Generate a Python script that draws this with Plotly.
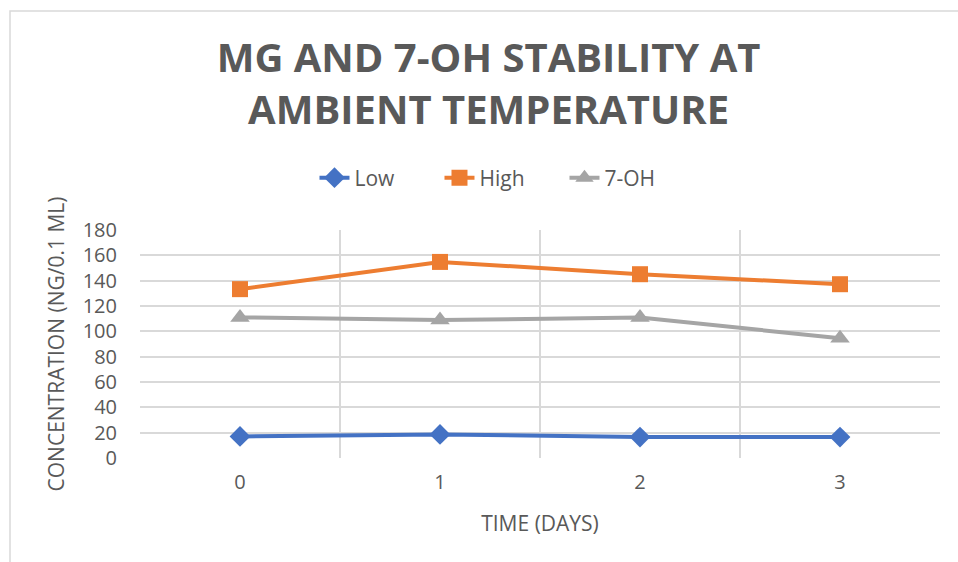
import plotly.graph_objects as go

# Stability data (concentration in ng/0.1 mL over days at ambient temperature)
days = [0, 1, 2, 3]
low = [17.0, 18.6, 16.5, 16.5]
high = [133.3, 154.8, 145.1, 137.2]
seven_oh = [111.0, 108.9, 111.0, 94.5]

series = [
    ("Low", low, "#4472C4", "diamond", 16),
    ("High", high, "#ED7D31", "square", 16),
    ("7-OH", seven_oh, "#A5A5A5", "triangle-up", 17),
]

FONT = "Open Sans"
TEXT = "#595959"
GRID = "#D9D9D9"

fig = go.Figure()
for name, vals, color, sym, size in series:
    fig.add_trace(go.Scatter(
        x=days, y=vals, name=name, mode="lines+markers",
        line=dict(color=color, width=4),
        marker=dict(symbol=sym, size=size, color=color, line=dict(width=0)),
    ))

fig.update_layout(
    width=958, height=562,
    paper_bgcolor="white", plot_bgcolor="white",
    margin=dict(l=140, r=18, t=230, b=104),
    font=dict(family=FONT, color=TEXT, size=20),
    title=dict(
        text="MG AND 7-OH STABILITY AT<br>AMBIENT TEMPERATURE",
        x=0.51, xref="container", xanchor="center",
        y=1 - 72 / 562, yref="container", yanchor="middle",
        font=dict(family=FONT, size=40, color=TEXT, weight="bold"),
    ),
    legend=dict(
        orientation="h", xref="container", yref="container",
        x=0.524, xanchor="center", y=1 - 178 / 562, yanchor="middle",
        font=dict(size=21, color=TEXT), entrywidth=80,
        bgcolor="rgba(0,0,0,0)",
    ),
    showlegend=True,
)

fig.update_xaxes(
    range=[-0.5, 3.5], tickvals=days, ticktext=[str(d) for d in days],
    showgrid=False, zeroline=False, showline=False, ticks="",
    ticklabelstandoff=10,
    minor=dict(tick0=-0.5, dtick=1, showgrid=True, gridcolor=GRID, gridwidth=1.5),
    tickfont=dict(size=20, color=TEXT),
    title=dict(text="TIME (DAYS)", font=dict(size=21, color=TEXT), standoff=22),
)
fig.update_yaxes(
    range=[0, 180], dtick=20, showgrid=True, gridcolor=GRID, gridwidth=1.5,
    zeroline=False, showline=False, ticks="", ticklabelstandoff=22,
    tickfont=dict(size=20, color=TEXT),
    title=dict(text="CONCENTRATION (NG/0.1 ML)", font=dict(size=21, color=TEXT), standoff=12),
)

# Chart-area frame (light border on the left and top edges)
fig.add_shape(
    type="rect", xref="paper", yref="paper",
    x0=(10 - 140) / 800, x1=(975 - 140) / 800,
    y0=-(575 - 458) / 228, y1=(458 - 11) / 228,
    line=dict(color="#D9D9D9", width=1.5), fillcolor="rgba(0,0,0,0)", layer="below",
)

fig.write_html("out.html")
